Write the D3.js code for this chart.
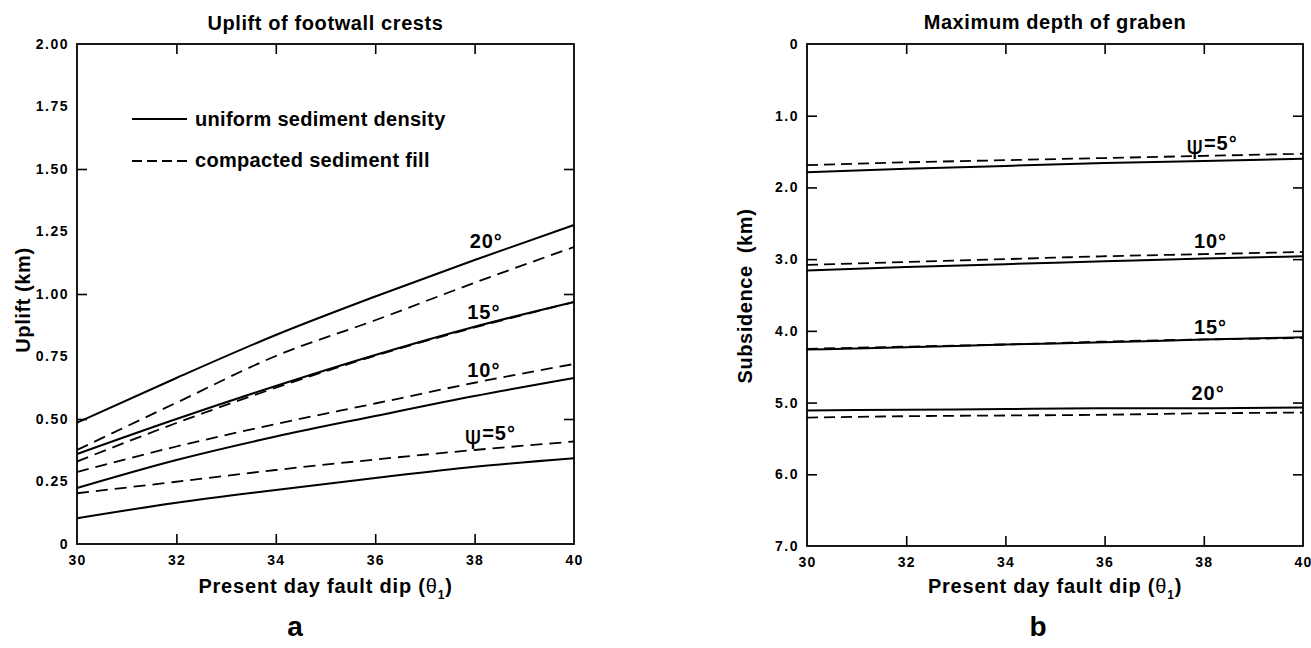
<!DOCTYPE html>
<html><head><meta charset="utf-8">
<script src="https://cdn.jsdelivr.net/npm/d3@7"></script>
<style>
body{margin:0;background:#fff;}
svg{display:block;font-family:"Liberation Sans",Arial,Helvetica,sans-serif;font-weight:bold;}
</style></head><body>
<svg id="chart" width="1311" height="648"></svg>
<script>
// ---------------- data ----------------
const dips = [30, 32, 34, 36, 38, 40];
const xTickValues = [30, 32, 34, 36, 38, 40];
const xInnerTicks = [32, 34, 36, 38];

// panel a: uplift of footwall crests (km)
const upliftLabels = [0, 0.25, 0.5, 0.75, 1.0, 1.25, 1.5, 1.75, 2.0];
const upliftTicks = [0.5, 1.0, 1.5];
const upliftSolid5   = [0.103, 0.165, 0.216, 0.264, 0.309, 0.343];
const upliftDashed5  = [0.203, 0.249, 0.296, 0.338, 0.376, 0.410];
const upliftSolid10  = [0.224, 0.336, 0.430, 0.512, 0.592, 0.664];
const upliftDashed10 = [0.288, 0.390, 0.480, 0.562, 0.645, 0.720];
const upliftSolid15  = [0.360, 0.500, 0.632, 0.756, 0.869, 0.968];
const upliftDashed15 = [0.330, 0.484, 0.625, 0.753, 0.866, 0.968];
const upliftSolid20  = [0.485, 0.664, 0.836, 0.990, 1.136, 1.276];
const upliftDashed20 = [0.376, 0.565, 0.752, 0.895, 1.045, 1.188];

// panel b: maximum depth of graben, subsidence (km)
const subsLabels = [0, 1, 2, 3, 4, 5, 6, 7];
const subsTicks = [1, 2, 3, 4, 5, 6];
const subsSolid5   = [1.79, 1.74, 1.70, 1.66, 1.63, 1.60];
const subsDashed5  = [1.69, 1.65, 1.62, 1.59, 1.56, 1.53];
const subsSolid10  = [3.16, 3.11, 3.07, 3.03, 2.99, 2.96];
const subsDashed10 = [3.08, 3.04, 3.00, 2.96, 2.93, 2.90];
const subsSolid15  = [4.26, 4.23, 4.19, 4.16, 4.12, 4.09];
const subsDashed15 = [4.25, 4.22, 4.19, 4.15, 4.12, 4.10];
const subsSolid20  = [5.11, 5.10, 5.09, 5.08, 5.08, 5.07];
const subsDashed20 = [5.21, 5.19, 5.18, 5.17, 5.15, 5.14];

const psiNames = ["5°", "10°", "15°", "20°"];
const legendNames = ["uniform sediment density", "compacted sediment fill"];

// ---------------- drawing ----------------
const svg = d3.select("#chart");
svg.append("rect").attr("width", 1311).attr("height", 648).attr("fill", "#fff");

function styleAxis(sel, size, ls) {
  sel.select(".domain").remove();
  sel.selectAll("line").attr("stroke", "#000").attr("stroke-width", 1.6);
  sel.selectAll("text").attr("fill", "#000")
    .style("font-family", '"Liberation Sans",Arial,sans-serif')
    .style("font-weight", "bold").style("font-size", size + "px")
    .style("letter-spacing", ls + "px");
}

function panel(cfg) {
  const g = svg.append("g");
  const x = cfg.x, y = cfg.y;
  const [x0, x1] = x.range();
  const yr = y.range();
  const yTop = Math.min(...yr), yBot = Math.max(...yr);

  g.append("g").attr("transform", `translate(0,${yBot})`)
    .call(d3.axisBottom(x).tickValues(xTickValues).tickSize(0).tickPadding(11).tickFormat(d3.format("d")))
    .call(s => styleAxis(s, 14, 1.2));
  g.append("g").attr("transform", `translate(0,${yBot})`)
    .call(d3.axisBottom(x).tickValues(xInnerTicks).tickSize(-10).tickFormat(""))
    .call(s => styleAxis(s, 14, 0));
  g.append("g").attr("transform", `translate(0,${yTop})`)
    .call(d3.axisTop(x).tickValues(xInnerTicks).tickSize(-10).tickFormat(""))
    .call(s => styleAxis(s, 14, 0));
  g.append("g").attr("transform", `translate(${x0},0)`)
    .call(d3.axisLeft(y).tickValues(cfg.yLabels).tickSize(0).tickPadding(8).tickFormat(cfg.yFormat))
    .call(s => styleAxis(s, 14, 1.5));
  g.append("g").attr("transform", `translate(${x0},0)`)
    .call(d3.axisLeft(y).tickValues(cfg.yTicks).tickSize(-10).tickFormat(""))
    .call(s => styleAxis(s, 14, 0));
  g.append("g").attr("transform", `translate(${x1},0)`)
    .call(d3.axisRight(y).tickValues(cfg.yTicks).tickSize(-10).tickFormat(""))
    .call(s => styleAxis(s, 14, 0));

  g.append("rect").attr("x", x0).attr("y", yTop).attr("width", x1 - x0).attr("height", yBot - yTop)
    .attr("fill", "none").attr("stroke", "#000").attr("stroke-width", 1.8);

  const line = d3.line().x((d, i) => x(dips[i])).y(d => y(d)).curve(d3.curveMonotoneX);
  cfg.series.forEach(s => {
    g.append("path").attr("d", line(s.values)).attr("fill", "none").attr("stroke", "#000")
      .attr("stroke-width", s.dashed ? 1.8 : 2)
      .attr("stroke-dasharray", s.dashed ? cfg.dash : null);
  });

  // curve labels
  cfg.labels.forEach((l, i) => {
    const t = g.append("text").attr("x", x(l.dip)).attr("y", y(l.val))
      .style("font-size", "20px").style("letter-spacing", "1px").attr("fill", "#000");
    if (i === 0) {
      t.append("tspan").text("ψ").style("font-size", "25px").style("font-weight", "normal")
        .style("font-family", '"DejaVu Sans",sans-serif').attr("dy", 4);
      t.append("tspan").text("=" + psiNames[i]).attr("dy", -4);
    } else {
      t.text(psiNames[i]);
    }
  });

  // title
  g.append("text").attr("x", (x0 + x1) / 2).attr("y", cfg.titleY).attr("text-anchor", "middle")
    .style("font-size", "20px").style("letter-spacing", "0.6px").text(cfg.title);

  // x title
  const xt = g.append("text").attr("x", (x0 + x1) / 2).attr("y", 593).attr("text-anchor", "middle")
    .style("font-size", "20px").style("letter-spacing", "0.8px");
  xt.append("tspan").text("Present day fault dip (");
  xt.append("tspan").text("θ").style("font-weight", "normal");
  xt.append("tspan").text("1").style("font-size", "12px").attr("dy", 6);
  xt.append("tspan").text(")").attr("dy", -6);

  // y title
  const yt = g.append("text").attr("transform", `translate(${cfg.yTitleX},${cfg.yTitleY}) rotate(-90)`)
    .attr("text-anchor", "middle").style("font-size", "20px").style("letter-spacing", "0.6px");
  yt.append("tspan").text(cfg.yTitle[0]);
  yt.append("tspan").text(cfg.yTitle[1]).attr("dx", cfg.yTitleGap);

  // panel letter
  g.append("text").attr("x", cfg.letterX).attr("y", 636).attr("text-anchor", "middle")
    .style("font-size", "28px").text(cfg.letter);
  return g;
}

// panel a
const xA = d3.scaleLinear().domain([30, 40]).range([77, 574]);
const yA = d3.scaleLinear().domain([0, 2]).range([544, 44]);
const gA = panel({
  x: xA, y: yA, yLabels: upliftLabels, yTicks: upliftTicks,
  yFormat: d => d === 0 ? "0" : d3.format(".2f")(d),
  dash: "12,7",
  series: [
    {values: upliftSolid5}, {values: upliftDashed5, dashed: true},
    {values: upliftSolid10}, {values: upliftDashed10, dashed: true},
    {values: upliftSolid15}, {values: upliftDashed15, dashed: true},
    {values: upliftSolid20}, {values: upliftDashed20, dashed: true}
  ],
  labels: [{dip: 37.8, val: 0.416}, {dip: 37.85, val: 0.668}, {dip: 37.85, val: 0.90}, {dip: 37.9, val: 1.184}],
  title: "Uplift of footwall crests", titleY: 30,
  yTitle: ["Uplift", "(km)"], yTitleGap: 6, yTitleX: 30, yTitleY: 300,
  letter: "a", letterX: 295
});

// legend (panel a)
const legY = [119, 161];
legendNames.forEach((name, i) => {
  gA.append("line").attr("x1", 132).attr("x2", 187).attr("y1", legY[i]).attr("y2", legY[i])
    .attr("stroke", "#000").attr("stroke-width", 2).attr("stroke-dasharray", i ? "10,5" : null);
  gA.append("text").attr("x", 195).attr("y", legY[i] + 7 + i * -1.5).style("font-size", "20px")
    .style("letter-spacing", "0.3px").text(name);
});

// panel b
const xB = d3.scaleLinear().domain([30, 40]).range([807, 1303]);
const yB = d3.scaleLinear().domain([0, 7]).range([44, 546]);
panel({
  x: xB, y: yB, yLabels: subsLabels, yTicks: subsTicks,
  yFormat: d => d === 0 ? "0" : d3.format(".1f")(d),
  dash: "11,6",
  series: [
    {values: subsSolid5}, {values: subsDashed5, dashed: true},
    {values: subsSolid10}, {values: subsDashed10, dashed: true},
    {values: subsSolid15}, {values: subsDashed15, dashed: true},
    {values: subsSolid20}, {values: subsDashed20, dashed: true}
  ],
  labels: [{dip: 37.65, val: 1.474}, {dip: 37.8, val: 2.85}, {dip: 37.8, val: 4.05}, {dip: 37.75, val: 4.97}],
  title: "Maximum depth of graben", titleY: 29,
  yTitle: ["Subsidence", "(km)"], yTitleGap: 12, yTitleX: 752, yTitleY: 296,
  letter: "b", letterX: 1038
});
</script>
</body></html>
